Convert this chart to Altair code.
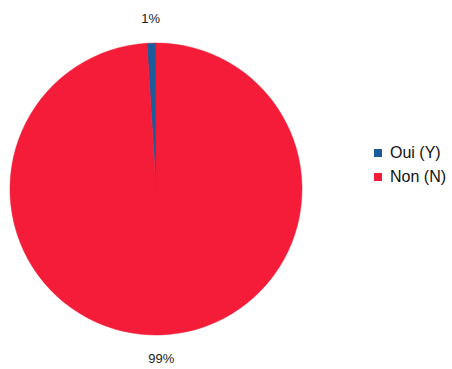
import altair as alt
import pandas as pd

categories = ["Oui (Y)", "Non (N)"]
values = [1, 99]
colors = ["#1d5c9c", "#f51c3a"]

df = pd.DataFrame({"category": categories, "value": values})

base = alt.Chart(df).encode(
    theta=alt.Theta("value:Q", stack=True),
    order=alt.Order("category:N", sort="ascending"),
)

pie = base.mark_arc(radius=146, stroke="#e8182f", strokeWidth=0.5).encode(
    x=alt.value(156),
    y=alt.value(189),
    color=alt.Color(
        "category:N",
        scale=alt.Scale(domain=categories, range=colors),
        sort=categories,
        legend=alt.Legend(
            title=None,
            orient="none",
            legendX=370,
            legendY=145,
            symbolType="square",
            symbolSize=64,
            symbolStrokeWidth=0,
            labelFont="Liberation Sans",
            labelFontSize=16,
            labelColor="#111111",
            rowPadding=8,
            labelOffset=4,
        ),
    ),
)

labels = base.transform_calculate(label="datum.value + '%'").mark_text(
    radius=170, font="Liberation Sans", fontSize=13, color="#1a1a1a"
).encode(
    x=alt.value(156),
    y=alt.value(189),
    text="label:N",
)

chart = (
    alt.layer(pie, labels)
    .properties(width=450, height=366, padding=0, background="white",
                autosize=alt.AutoSizeParams(type="none"))
    .configure_view(strokeWidth=0, stroke="transparent")
)

chart.save("out.html", embed_options={"renderer": "svg", "actions": False})
